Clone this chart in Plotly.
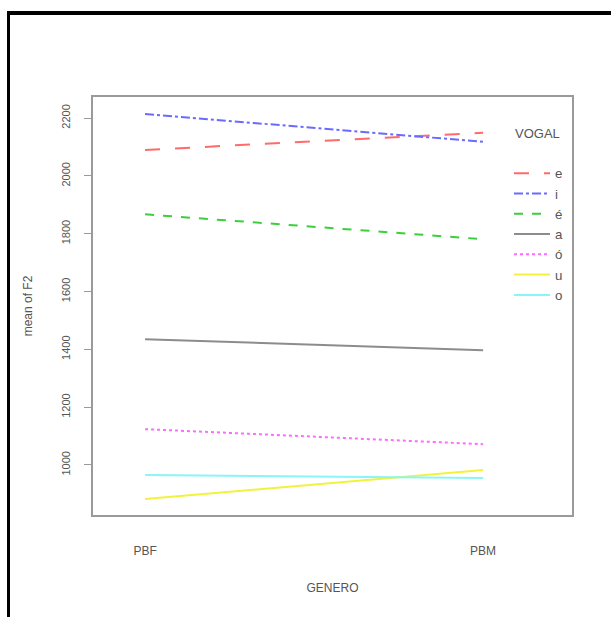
import plotly.graph_objects as go

# Mean F2 by speaker gender for each vowel
genero = ["PBF", "PBM"]
vogais = ["e", "i", "é", "a", "ó", "u", "o"]
f2_pbf = [2090, 2214, 1867, 1435, 1124, 882, 965]
f2_pbm = [2149, 2118, 1781, 1397, 1072, 983, 955]
y_ticks = [1000, 1200, 1400, 1600, 1800, 2000, 2200]

colors = ["#ff6a6a", "#6a6aff", "#3ccf3c", "#8c8c8c", "#ff6aff", "#f2f23c", "#8af5f5"]
dashes = ["longdash", "dashdot", "dash", "solid", "dot", "solid", "solid"]

W, H = 611, 617
L, R, T, B = 93, 572, 97, 515


def px_x(p):
    return (p - L) / (R - L)


def px_y(p):
    return (B - p) / (B - T)


fig = go.Figure()
for name, a, b, c, d in zip(vogais, f2_pbf, f2_pbm, colors, dashes):
    fig.add_trace(go.Scatter(
        x=[1, 2], y=[a, b], mode="lines", name=name,
        line=dict(color=c, width=2, dash=d),
    ))

font = dict(family="Liberation Sans, Arial, sans-serif", color="#555555")

fig.update_layout(
    width=W, height=H,
    margin=dict(l=L, r=W - R, t=T, b=H - B),
    paper_bgcolor="white", plot_bgcolor="white",
    font=dict(size=12, **font),
    showlegend=True,
    legend=dict(
        x=px_x(509), y=px_y(158), xanchor="left", yanchor="top",
        bgcolor="rgba(0,0,0,0)", font=dict(size=13.3, **font),
        itemwidth=36, tracegroupgap=0,
    ),
    annotations=[
        dict(text="VOGAL", xref="paper", yref="paper",
             x=px_x(537), y=px_y(133), xanchor="center", yanchor="middle",
             showarrow=False, font=dict(size=13, **font)),
    ],
    xaxis=dict(
        range=[0.846, 2.263], tickvals=[1, 2], ticktext=genero,
        showgrid=False, zeroline=False, ticks="",
        showline=True, mirror=True, linecolor="#9a9a9a", linewidth=2,
        ticklabelstandoff=24,
        title=dict(text="GENERO", standoff=26, font=dict(size=12, **font)),
    ),
    yaxis=dict(
        range=[827, 2273], tickvals=y_ticks,
        showgrid=False, zeroline=False, ticks="outside", ticklen=7,
        tickcolor="#9a9a9a", tickwidth=1, tickangle=-90,
        showline=True, mirror=True, linecolor="#9a9a9a", linewidth=2,
        ticklabelstandoff=10, tickfont=dict(size=11, **font),
        title=dict(text="mean of F2", standoff=24, font=dict(size=12, **font)),
    ),
    shapes=[
        dict(type="rect", xref="paper", yref="paper",
             x0=px_x(7), x1=px_x(W), y0=px_y(11), y1=px_y(15),
             fillcolor="black", line=dict(width=0), layer="above"),
        dict(type="rect", xref="paper", yref="paper",
             x0=px_x(7), x1=px_x(10), y0=px_y(11), y1=px_y(H),
             fillcolor="black", line=dict(width=0), layer="above"),
    ],
)

fig.write_html("out.html")
